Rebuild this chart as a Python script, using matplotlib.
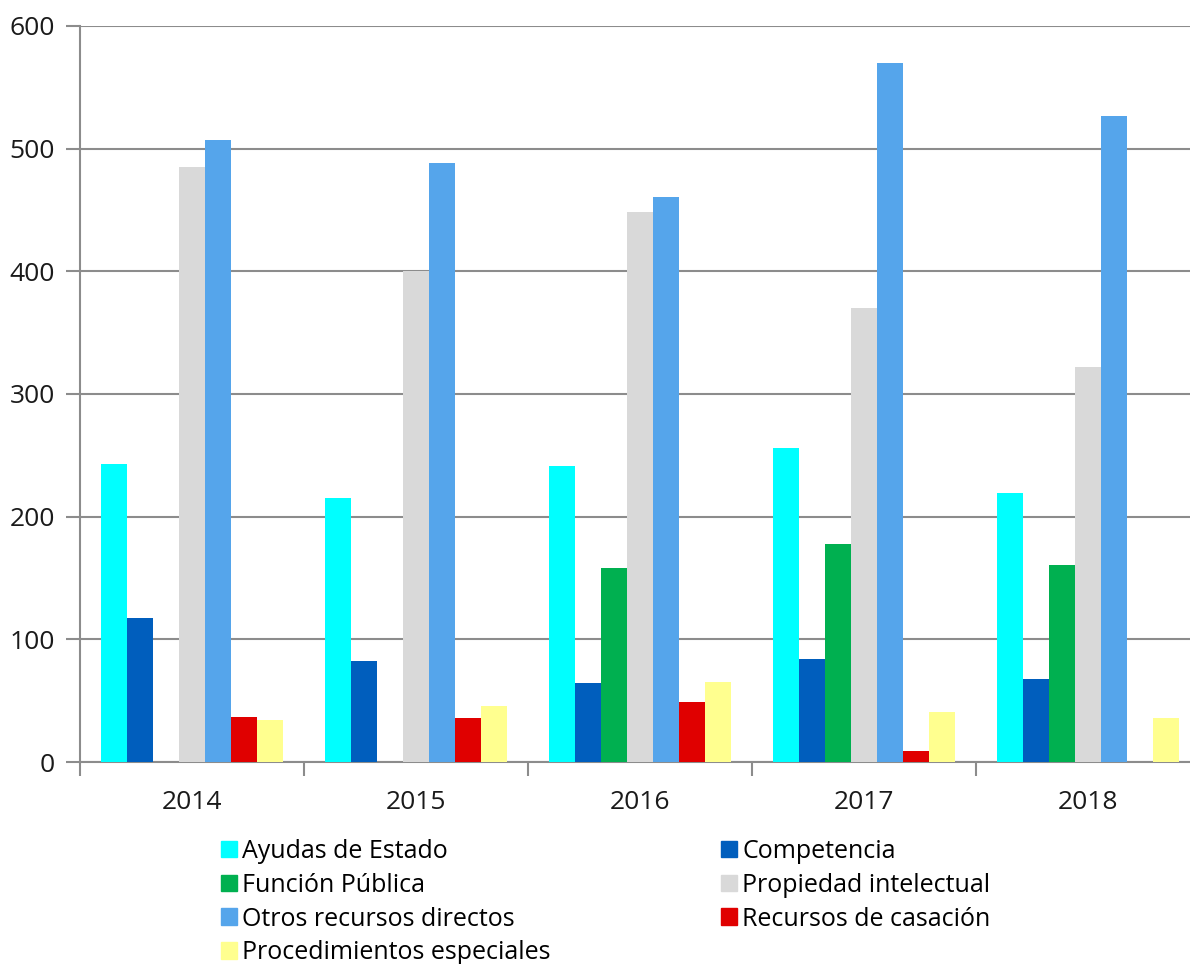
import matplotlib.pyplot as plt
import matplotlib.patches as mpatches
import numpy as np

plt.rcParams['font.family'] = ['Open Sans', 'DejaVu Sans']

years = ["2014", "2015", "2016", "2017", "2018"]
series = ["Ayudas de Estado", "Competencia", "Función Pública", "Propiedad intelectual",
          "Otros recursos directos", "Recursos de casación", "Procedimientos especiales"]
ayudas = [243, 215, 241, 256, 219]
competencia = [117, 82, 64, 84, 68]
funcion = [0, 0, 158, 178, 161]
propiedad = [485, 400, 448, 370, 322]
otros = [507, 488, 461, 570, 527]
casacion = [37, 36, 49, 9, 0]
especiales = [34, 46, 65, 41, 36]
colors = ["#00FFFF", "#005EBD", "#00B050", "#D9D9D9", "#55A5EB", "#E00000", "#FFFF8F"]

values = [ayudas, competencia, funcion, propiedad, otros, casacion, especiales]

fig = plt.figure(figsize=(11.9, 9.64), dpi=100)
ax = fig.add_axes([80/1190, 1 - 762/964, 1120/1190, 736/964])

x = np.arange(len(years))
w = 26/224
for i, (vals, c) in enumerate(zip(values, colors)):
    ax.bar(x + (i - 3) * w, vals, width=w, color=c, linewidth=0, zorder=3)

ax.set_xlim(-0.5, len(years) - 0.5)
ax.set_ylim(0, 600)
ax.set_yticks(range(0, 601, 100))
ax.yaxis.grid(True, color="#8C8C8C", linewidth=1.5, zorder=0)
ax.set_xticks(x)
ax.set_xticklabels(years)
ax.set_xticks(np.arange(-0.5, len(years), 1), minor=True)
ax.tick_params(axis='x', which='major', length=0, pad=20, labelsize=19, colors="#1a1a1a")
ax.tick_params(axis='x', which='minor', length=10, width=1.5, color="#8C8C8C")
ax.tick_params(axis='y', length=10, width=1.5, color="#8C8C8C", labelsize=19, pad=8,
               labelcolor="#1a1a1a")
for s in ['top', 'right']:
    ax.spines[s].set_visible(False)
for s in ['left', 'bottom']:
    ax.spines[s].set_color("#8C8C8C")
    ax.spines[s].set_linewidth(1.5)

handles = [mpatches.Patch(color=c, label=l) for c, l in zip(colors, series)]
legend_kw = dict(frameon=False, fontsize=18, handlelength=0.64, handleheight=0.64,
                 handletextpad=0.22, labelspacing=0.35, borderpad=0, borderaxespad=0,
                 loc='upper left')
fig.legend(handles=handles[0::2], bbox_to_anchor=(221/1190, 1 - 839/964), **legend_kw)
fig.legend(handles=handles[1::2], bbox_to_anchor=(721/1190, 1 - 839/964), **legend_kw)

fig.savefig("out.png", dpi=100)
